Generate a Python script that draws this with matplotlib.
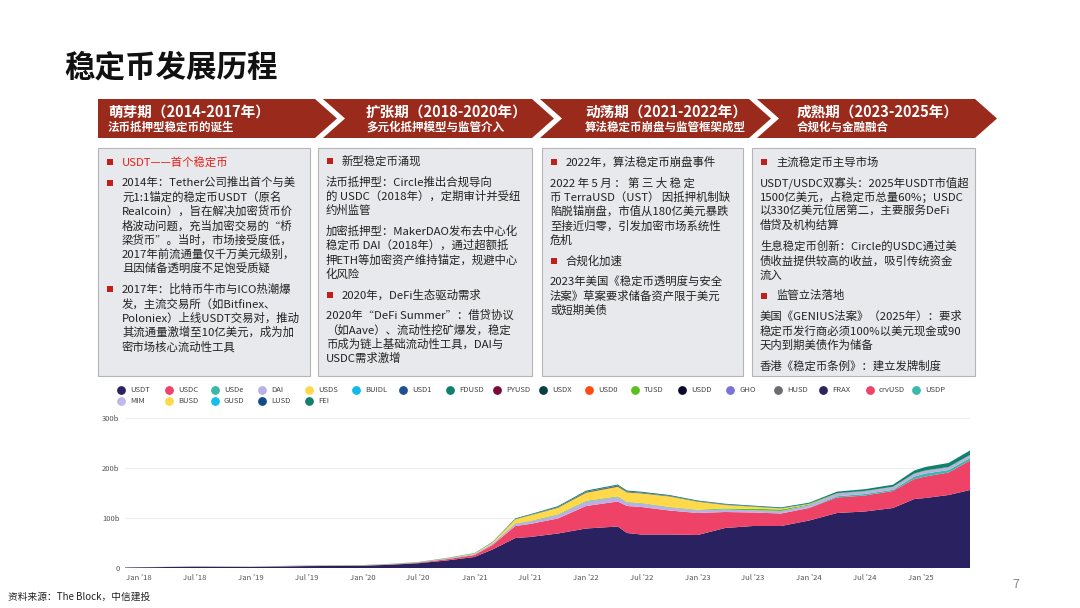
import matplotlib
matplotlib.use("Agg")
import matplotlib.pyplot as plt
from matplotlib.patches import Polygon, Rectangle
import datetime as dt

plt.rcParams['font.family'] = ['Noto Sans CJK SC', 'DejaVu Sans']

# ---------------- data ----------------
dates = ['2017-11-15','2018-01-01','2018-07-01','2019-01-01','2019-07-01','2020-01-01','2020-04-01','2020-07-01',
         '2020-10-01','2021-01-01','2021-03-01','2021-05-15','2021-07-01','2021-10-01','2022-01-01','2022-04-15',
         '2022-05-15','2022-07-01','2022-10-01','2023-01-01','2023-04-01','2023-07-01','2023-10-01','2024-01-01',
         '2024-04-01','2024-07-01','2024-10-01','2024-12-10','2025-01-15','2025-04-01','2025-06-10']
usdt = [1.0,1.4,2.6,2.0,3.8,4.5,6.5,9.5,15,22,37,60,62,69,79,83,70,67,67,66,80,84,84,95,110,113,120,138,140,146,156]
usdc = [0,0,0.2,0.3,0.5,0.5,0.7,1.0,2.5,4,9,24,26,30,45,50,54,55,48,44,32,27,25,25,31,32,34,40,43,45,59]
usde = [0]*23 + [0.5,2.5,3,2.5,5,6,5,5]
dai = [0,0.05,0.05,0.1,0.2,0.2,0.2,0.3,1,1.5,2.5,4.5,5,7,9,9,7,7,6,5.5,5,4.5,5,5,5,5,5,5,5,5,5]
tusd = [0,0.1,0.2,0.2,0.2,0.2,0.3,0.4,0.4,0.4,0.4,0.8,1,1.2,1.2,1.2,1.0,1.0,1.0,1.0,2,3,3,1.5,0.5,0.5,0.5,0.5,0.5,0.5,0.5]
busd = [0,0,0,0,0.1,0.2,0.2,0.2,0.5,1,2,8,11,13,16,19,19,19,21,16,7,4,2,1,0.1,0.1,0.1,0.1,0.1,0.1,0.1]
frax = [0]*10 + [0.2,0.5,0.8,1.5,2.5,2.8,2.0,1.5,1.2,1.0,1.0,0.8,0.7,0.6,0.6,0.5,0.5,0.5,0.5,0.5,0.5]
others = [0,0.1,0.1,0.2,0.3,0.3,0.4,0.5,0.6,0.8,1,1.5,1.5,2,2,2,2,2,1.8,1.6,1.5,1.5,1.6,2,3,3.5,4,6,7,8,9]

legend_names = ['USDT','USDC','USDe','DAI','USDS','BUIDL','USD1','FDUSD','PYUSD','USDX','USD0','TUSD',
                'USDD','GHO','HUSD','FRAX','crvUSD','USDP','MIM','BUSD','GUSD','LUSD','FEI']
legend_colors = ['#2a2260','#ee4266','#3ab8a8','#b8b0e6','#ffd94a','#12b9e8','#1d4f91','#10806e','#7a0a3a',
                 '#0a3d45','#ff4b10','#5cbf1e','#0b0a2e','#7b72d8','#6b6b70','#2c2460','#ee4266','#3ab8a8',
                 '#c0b8e8','#ffd94a','#12c0ef','#0f4c8a','#128070']

x_ticks = ['2018-01-01','2018-07-01','2019-01-01','2019-07-01','2020-01-01','2020-07-01','2021-01-01','2021-07-01',
           '2022-01-01','2022-07-01','2023-01-01','2023-07-01','2024-01-01','2024-07-01','2025-01-01']
x_labels = ["Jan '18","Jul '18","Jan '19","Jul '19","Jan '20","Jul '20","Jan '21","Jul '21",
            "Jan '22","Jul '22","Jan '23","Jul '23","Jan '24","Jul '24","Jan '25"]
y_ticks = [0,100,200,300]
y_labels = ['0','100b','200b','300b']

phases = [('萌芽期（2014-2017年）','法币抵押型稳定币的诞生'),
          ('扩张期（2018-2020年）','多元化抵押模型与监管介入'),
          ('动荡期（2021-2022年）','算法稳定币崩盘与监管框架成型'),
          ('成熟期（2023-2025年）','合规化与金融融合')]

col1 = [('r',['USDT——首个稳定币']),
        ('bt',['2014年：Tether公司推出首个与美','元1:1锚定的稳定币USDT（原名','Realcoin），旨在解决加密货币价',
               '格波动问题，充当加密交易的“桥','梁货币”。当时，市场接受度低，','2017年前流通量仅千万美元级别，','且因储备透明度不足饱受质疑']),
        ('bt',['2017年：比特币牛市与ICO热潮爆','发，主流交易所（如Bitfinex、','Poloniex）上线USDT交易对，推动',
               '其流通量激增至10亿美元，成为加','密市场核心流动性工具'])]
col2 = [('b',['新型稳定币涌现']),
        ('p',['法币抵押型：Circle推出合规导向','的 USDC（2018年），定期审计并受纽','约州监管']),
        ('p',['加密抵押型：MakerDAO发布去中心化','稳定币 DAI（2018年），通过超额抵','押ETH等加密资产维持锚定，规避中心','化风险']),
        ('b',['2020年，DeFi生态驱动需求']),
        ('p',['2020年“DeFi Summer”：借贷协议','（如Aave）、流动性挖矿爆发，稳定','币成为链上基础流动性工具，DAI与','USDC需求激增'])]
col3 = [('b',['2022年，算法稳定币崩盘事件']),
        ('p',['2022 年 5 月 ： 第 三 大 稳 定','币 TerraUSD（UST） 因抵押机制缺','陷脱锚崩盘，市值从180亿美元暴跌','至接近归零，引发加密市场系统性','危机']),
        ('b',['合规化加速']),
        ('p',['2023年美国《稳定币透明度与安全','法案》草案要求储备资产限于美元','或短期美债'])]
col4 = [('b',['主流稳定币主导市场']),
        ('p',['USDT/USDC双寡头：2025年USDT市值超','1500亿美元，占稳定币总量60%；USDC','以330亿美元位居第二，主要服务DeFi','借贷及机构结算']),
        ('p',['生息稳定币创新：Circle的USDC通过美','债收益提供较高的收益，吸引传统资金','流入']),
        ('b',['监管立法落地']),
        ('p',['美国《GENIUS法案》（2025年）：要求','稳定币发行商必须100%以美元现金或90','天内到期美债作为储备']),
        ('p',['香港《稳定币条例》：建立发牌制度'])]

# ---------------- figure ----------------
fig = plt.figure(figsize=(10.8, 6.08), dpi=100)
lay = fig.add_axes([0, 0, 1, 1])
lay.set_xlim(0, 1080); lay.set_ylim(608, 0); lay.axis('off')

lay.text(64, 68, '稳定币发展历程', fontsize=22, fontweight='bold', va='center', ha='left', color='#111111')

red = '#9a2a1c'
L = [98, 323, 540, 757]; T = [315, 532, 749, 975]
tx = [108, 366, 585, 797]
y0, y1, d = 99, 138, 22
for i in range(4):
    ym = (y0 + y1) / 2
    if i == 0:
        pts = [(L[i], y0), (T[i], y0), (T[i] + d, ym), (T[i], y1), (L[i], y1)]
    else:
        pts = [(L[i], y0), (T[i], y0), (T[i] + d, ym), (T[i], y1), (L[i], y1), (L[i] + d, ym)]
    lay.add_patch(Polygon(pts, closed=True, fc=red, ec='none'))
    lay.text(tx[i], 112, phases[i][0], fontsize=10.5, fontweight='bold', color='white', va='center')
    lay.text(tx[i], 127, phases[i][1], fontsize=8.3, fontweight='bold', color='white', va='center')

boxes = [(98, 310), (318, 532), (542, 743), (752, 975)]
for (a, b) in boxes:
    lay.add_patch(Rectangle((a, 148), b - a, 228, fc='#e8e9ec', ec='#b5b5b5', lw=0.8))

cols = [col1, col2, col3, col4]
start_y = [162, 161, 162, 162]
for ci, col in enumerate(cols):
    a = boxes[ci][0]
    y = start_y[ci]
    for kind, lines in col:
        if kind in ('b', 'r', 'bt'):
            lay.add_patch(Rectangle((a + 9, y - 3), 6, 6, fc='#c0201a', ec='none'))
            xt = a + 24
        else:
            xt = a + 8
        color = '#e8201a' if kind == 'r' else '#222222'
        for j, ln in enumerate(lines):
            lay.text(xt, y + j * 14.3, ln, fontsize=8.2, color=color, va='center', ha='left')
        y += len(lines) * 14.3 + 6.5

lx = [121,169,215,262,309,356,403,450,497,543,589,635,682,730,778,823,870,916]
for i, (n, c) in enumerate(zip(legend_names, legend_colors)):
    if i < 18:
        x, y = lx[i], 390
    else:
        x, y = lx[i - 18], 401
    lay.scatter([x], [y], s=28, color=c, zorder=3)
    lay.text(x + 9, y, n, fontsize=5.5, color='#444444', va='center')

lay.text(8, 597, '资料来源：The Block，中信建投', fontsize=7, va='center', color='#222222')
lay.text(1012, 585, '7', fontsize=9, va='center', color='#888888')

# ---------------- chart ----------------
ax = fig.add_axes([125 / 1080, (608 - 568) / 608, (970 - 125) / 1080, 150 / 608])
xd = [dt.datetime.strptime(s, '%Y-%m-%d') for s in dates]
series = [usdt, usdc, usde, dai, tusd, busd, frax, others]
colors = ['#2a2260', '#ee4266', '#3ab8a8', '#b8b0e6', '#5cbf1e', '#ffd94a', '#6b6b70', '#128070']
ax.stackplot(xd, *series, colors=colors, lw=0)
ax.set_xlim(dt.datetime(2017, 11, 15), dt.datetime(2025, 6, 10))
ax.set_ylim(0, 300)
ax.set_yticks(y_ticks); ax.set_yticklabels(y_labels, fontsize=5.5, color='#555555')
ax.set_xticks([dt.datetime.strptime(s, '%Y-%m-%d') for s in x_ticks])
ax.set_xticklabels(x_labels, fontsize=5.5, color='#555555')
ax.grid(axis='y', color='#eeeeee', lw=0.8)
ax.set_axisbelow(True)
ax.tick_params(length=0, pad=4)
for s in ax.spines.values():
    s.set_visible(False)
ax.patch.set_alpha(0)

fig.savefig('out.png', dpi=100)
